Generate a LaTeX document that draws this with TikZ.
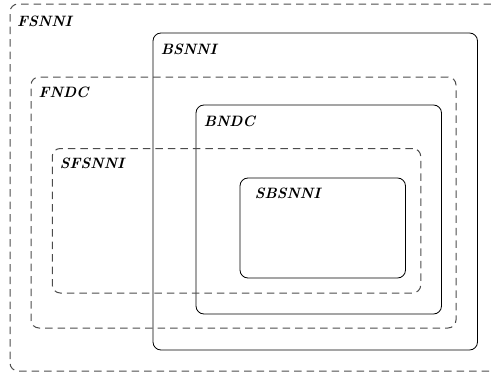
\documentclass[tikz,border=0pt]{standalone}
\begin{document}
\begin{tikzpicture}[x=1pt,y=-1pt,
  solidbox/.style={draw=black, line width=0.8pt, rounded corners=8pt, inner sep=0pt},
  dashbox/.style={draw=black!70, line width=1pt, rounded corners=8pt, inner sep=0pt, dash pattern=on 7.5pt off 5pt},
  lbl/.style={anchor=base west, inner sep=0pt, font=\fontsize{15}{18}\selectfont\bfseries\itshape}]
\useasboundingbox (0,0) rectangle (491,375);
% outer region, open on the right (cut by the picture edge)
\coordinate (fsnni) at (10,4);
\draw[dashbox] (491,4) -| (10,371) -- (491,371);
% boxes: centre = ((l+r)/2, (t+b)/2)
\node[solidbox, minimum width=324.5pt, minimum height=317pt] (bsnni) at (315.25,191.5) {};
\node[dashbox, minimum width=425pt, minimum height=251pt] (fndc) at (243.5,202.5) {};
\node[solidbox, minimum width=245.5pt, minimum height=209pt] (bndc) at (318.75,209.5) {};
\node[dashbox, minimum width=368.5pt, minimum height=144.5pt] (sfsnni) at (236.5,220.75) {};
\node[solidbox, minimum width=165.5pt, minimum height=100pt] (sbsnni) at (322.75,228) {};
% labels
\node[lbl] (tfsnni) at ([shift={(7,22)}]fsnni) {FSNNI};
\node[lbl] (tbsnni) at ([shift={(8,22)}]bsnni.north west) {BSNNI};
\node[lbl] (tfndc) at ([shift={(8,21)}]fndc.north west) {FNDC};
\node[lbl] (tbndc) at ([shift={(8,22)}]bndc.north west) {BNDC};
\node[lbl] (tsfsnni) at ([shift={(8,20)}]sfsnni.north west) {SFSNNI};
\node[lbl] (tsbsnni) at ([shift={(15,21)}]sbsnni.north west) {SBSNNI};
\end{tikzpicture}
\end{document}
